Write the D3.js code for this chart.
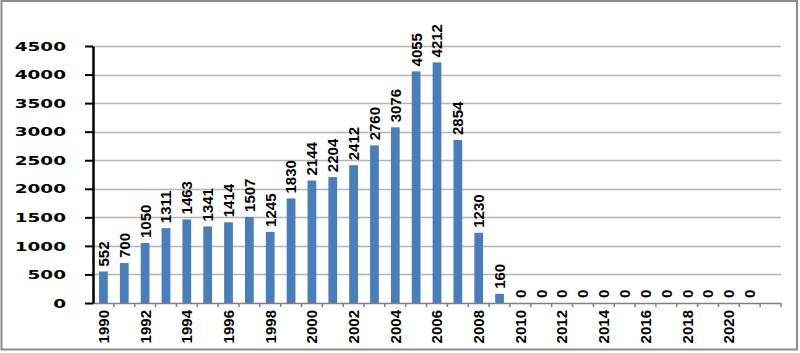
<!DOCTYPE html>
<html>
<head>
<meta charset="utf-8">
<script src="https://cdn.jsdelivr.net/npm/d3@7"></script>
<style>
  body { margin: 0; background: #fff; }
</style>
</head>
<body>
<svg id="drawing_region"></svg>
<script>
// categories: 1990 .. 2021, plus one empty slot at the end
const years = [
  '1990','1991','1992','1993','1994','1995','1996','1997','1998','1999',
  '2000','2001','2002','2003','2004','2005','2006','2007','2008','2009',
  '2010','2011','2012','2013','2014','2015','2016','2017','2018','2019',
  '2020','2021',''
];
const values = [
  552, 700, 1050, 1311, 1463, 1341, 1414, 1507, 1245, 1830,
  2144, 2204, 2412, 2760, 3076, 4055, 4212, 2854, 1230, 160,
  0, 0, 0, 0, 0, 0, 0, 0, 0, 0,
  0, 0, null
];
const yTicks = [0, 500, 1000, 1500, 2000, 2500, 3000, 3500, 4000, 4500];
// only every other year gets a label
const xLabels = years.filter((d, i) => i % 2 === 0 && d !== '');

const data = years.map((y, i) => ({ year: y, value: values[i] }));

draw(data);

function draw(data) {

    const width  = 800;
    const height = 353;
    const margin = { top: 46, right: 19, bottom: 50, left: 93 };

    const svg = d3.select('#drawing_region')
        .attr('width', width)
        .attr('height', height);

    // outer frame
    svg.append('rect')
        .attr('x', 1.5)
        .attr('y', 1)
        .attr('width', 795.5)
        .attr('height', 348.5)
        .attr('fill', 'none')
        .attr('stroke', '#8c8c8c')
        .attr('stroke-width', 2);

    const inner_width  = width  - margin.left - margin.right;
    const inner_height = 303 - margin.top;

    const chart = svg.append('g')
        .attr('transform', `translate(${margin.left}, ${margin.top})`);

    const xscale = d3.scaleBand()
        .domain(years)
        .range([0, inner_width])
        .paddingInner(0.58)
        .paddingOuter(0.29);

    const yscale = d3.scaleLinear()
        .domain([0, 4500])
        .range([inner_height, 0]);

    // gridlines
    chart.append('g')
        .selectAll('line')
        .data(yTicks.filter(d => d > 0))
        .enter()
        .append('line')
        .attr('x1', 0)
        .attr('x2', inner_width)
        .attr('y1', d => Math.round(yscale(d)) + 0.5)
        .attr('y2', d => Math.round(yscale(d)) + 0.5)
        .attr('stroke', '#b4b4b4')
        .attr('stroke-width', 1.3);

    // bars
    chart.selectAll('rect.bar')
        .data(data.filter(d => d.value !== null))
        .enter()
        .append('rect')
        .attr('class', 'bar')
        .attr('x', d => xscale(d.year))
        .attr('y', d => yscale(d.value))
        .attr('width', xscale.bandwidth())
        .attr('height', d => inner_height - yscale(d.value))
        .attr('fill', '#4a7ebb');

    // value labels
    chart.selectAll('text.val')
        .data(data.filter(d => d.value !== null))
        .enter()
        .append('text')
        .attr('class', 'val')
        .attr('transform', d =>
            `translate(${xscale(d.year) + xscale.bandwidth() / 2}, ${yscale(d.value) - 5}) rotate(-90)`)
        .attr('dy', '0.36em')
        .attr('text-anchor', 'start')
        .attr('font-family', '"Liberation Sans", Arial, sans-serif')
        .attr('font-weight', 'bold')
        .attr('font-size', '15px')
        .attr('fill', '#000')
        .text(d => d.value);

    // x axis: ticks between categories
    const step = xscale.step();
    const xAxis = chart.append('g')
        .attr('transform', `translate(0, ${inner_height})`);

    xAxis.append('line')
        .attr('x1', 0)
        .attr('x2', inner_width)
        .attr('y1', 0.5)
        .attr('y2', 0.5)
        .attr('stroke', '#808080')
        .attr('stroke-width', 1.3);

    xAxis.selectAll('line.tick')
        .data(d3.range(1, years.length + 1))
        .enter()
        .append('line')
        .attr('class', 'tick')
        .attr('x1', i => i * step)
        .attr('x2', i => i * step)
        .attr('y1', 0)
        .attr('y2', 4)
        .attr('stroke', '#808080')
        .attr('stroke-width', 1.5);

    xAxis.selectAll('text')
        .data(xLabels)
        .enter()
        .append('text')
        .attr('transform', d =>
            `translate(${xscale(d) + xscale.bandwidth() / 2}, 7) rotate(-90)`)
        .attr('dy', '0.36em')
        .attr('text-anchor', 'end')
        .attr('font-family', '"Liberation Sans", Arial, sans-serif')
        .attr('font-weight', 'bold')
        .attr('font-size', '15px')
        .attr('fill', '#000')
        .text(d => d);

    // y axis
    const yAxis = chart.append('g')
        .call(d3.axisLeft(yscale)
            .tickValues(yTicks)
            .tickFormat(d3.format('d'))
            .tickSize(8)
            .tickSizeOuter(0));

    yAxis.select('.domain')
        .attr('stroke', '#000')
        .attr('stroke-width', 2.5);

    yAxis.selectAll('.tick line')
        .attr('stroke', '#000')
        .attr('stroke-width', 2);

    yAxis.selectAll('.tick text')
        .attr('x', 0)
        .attr('transform', 'translate(-27, 0) scale(1.42, 1)')
        .attr('font-family', '"DejaVu Sans", Verdana, sans-serif')
        .attr('font-weight', 'bold')
        .attr('font-size', '13px')
        .attr('fill', '#000');
}
</script>
</body>
</html>
